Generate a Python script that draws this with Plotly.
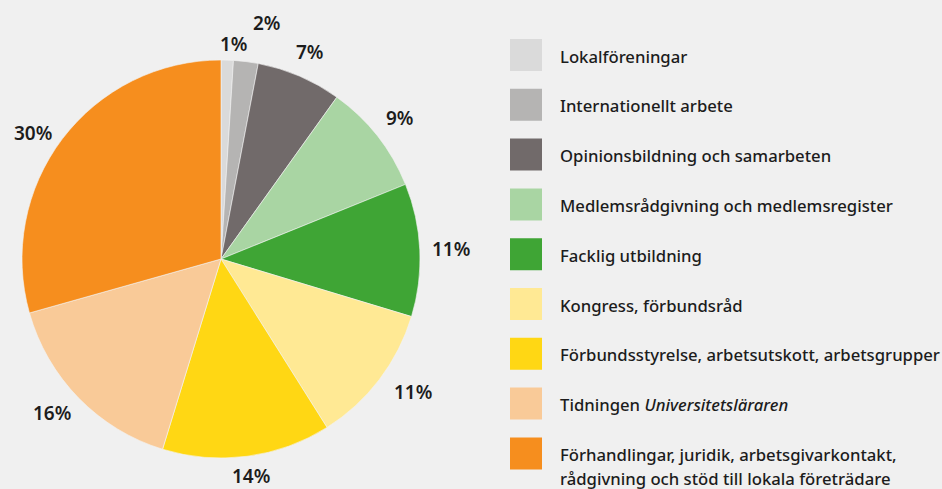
import math
import plotly.graph_objects as go

# ---- data ----
categories = [
    "Lokalföreningar",
    "Internationellt arbete",
    "Opinionsbildning och samarbeten",
    "Medlemsrådgivning och medlemsregister",
    "Facklig utbildning",
    "Kongress, förbundsråd",
    "Förbundsstyrelse, arbetsutskott, arbetsgrupper",
    "Tidningen <i>Universitetsläraren</i>",
    "Förhandlingar, juridik, arbetsgivarkontakt,\nrådgivning och stöd till lokala företrädare",
]
values = [1.0, 2.0, 6.9, 9.0, 10.8, 11.4, 13.7, 15.9, 29.4]
pct_labels = ["1%", "2%", "7%", "9%", "11%", "11%", "14%", "16%", "30%"]
colors = ["#dadada", "#b5b4b3", "#716a6a", "#a9d5a3", "#3fa535",
          "#ffe994", "#ffd714", "#f9ca98", "#f68e1e"]

# ---- layout geometry (pixels) ----
W, H = 942, 489
CX, CY, R = 221, 259, 199
BG = "#f0f0f0"
TXT = "#1c1c1c"
FONT = "Noto Sans"

fig = go.Figure()
fig.add_trace(go.Pie(
    labels=[c.split("\n")[0] for c in categories],
    values=values,
    sort=False,
    direction="clockwise",
    rotation=0,
    marker=dict(colors=colors, line=dict(color="#f4f4f4", width=0.6)),
    textinfo="none",
    hoverinfo="label+percent",
    showlegend=False,
    domain=dict(x=[(CX - R) / W, (CX + R) / W],
                y=[(H - CY - R) / H, (H - CY + R) / H]),
))

annotations = []
shapes = []

# percentage labels outside slices
lbl_size = 19
nudges = {0: (6, 3), 1: (19, -19), 2: (0, 1), 5: (7, -8), 6: (0, -6),
          7: (-3, -8), 8: (-3, 14)}
total = sum(values)
cum = 0.0
for i, (v, t) in enumerate(zip(values, pct_labels)):
    mid = (cum + v / 2) / total * 2 * math.pi
    cum += v
    s, c = math.sin(mid), math.cos(mid)
    w = len(t) * 0.6 * lbl_size
    h = lbl_size
    gap = 9 if i < 2 else 14
    rl = R + gap + 0.5 * (abs(s) * w + abs(c) * h)
    px = CX + rl * s
    py = CY - rl * c
    dx, dy = nudges.get(i, (0, 0))
    px += dx
    py += dy
    annotations.append(dict(
        x=px / W, y=1 - py / H, xref="paper", yref="paper",
        text=t, showarrow=False, xanchor="center", yanchor="middle",
        borderpad=0,
        font=dict(family=FONT, size=lbl_size, color=TXT, weight=600),
    ))

# manual legend
LX0, LSQ, LY0, LSTEP, LTX = 510, 32, 55, 49.8, 558
for i, (cat, col) in enumerate(zip(categories, colors)):
    yc = LY0 + i * LSTEP
    shapes.append(dict(
        type="rect", xref="paper", yref="paper",
        x0=LX0 / W, x1=(LX0 + LSQ) / W,
        y0=1 - (yc + LSQ / 2) / H, y1=1 - (yc - LSQ / 2) / H,
        fillcolor=col, line=dict(width=0),
    ))
    for j, line in enumerate(cat.split("\n")):
        annotations.append(dict(
            x=LTX / W, y=1 - (yc + 1 + j * 24) / H, xref="paper", yref="paper",
            text=line, showarrow=False, xanchor="left", yanchor="middle",
            font=dict(family=FONT, size=16.7, color=TXT, weight=500),
        ))

fig.update_layout(
    width=W, height=H,
    margin=dict(l=0, r=0, t=0, b=0),
    paper_bgcolor=BG, plot_bgcolor=BG,
    annotations=annotations, shapes=shapes,
    showlegend=False,
)

fig.write_html("out.html", config={"displayModeBar": False},
               post_script="document.body.style.margin='0';")
